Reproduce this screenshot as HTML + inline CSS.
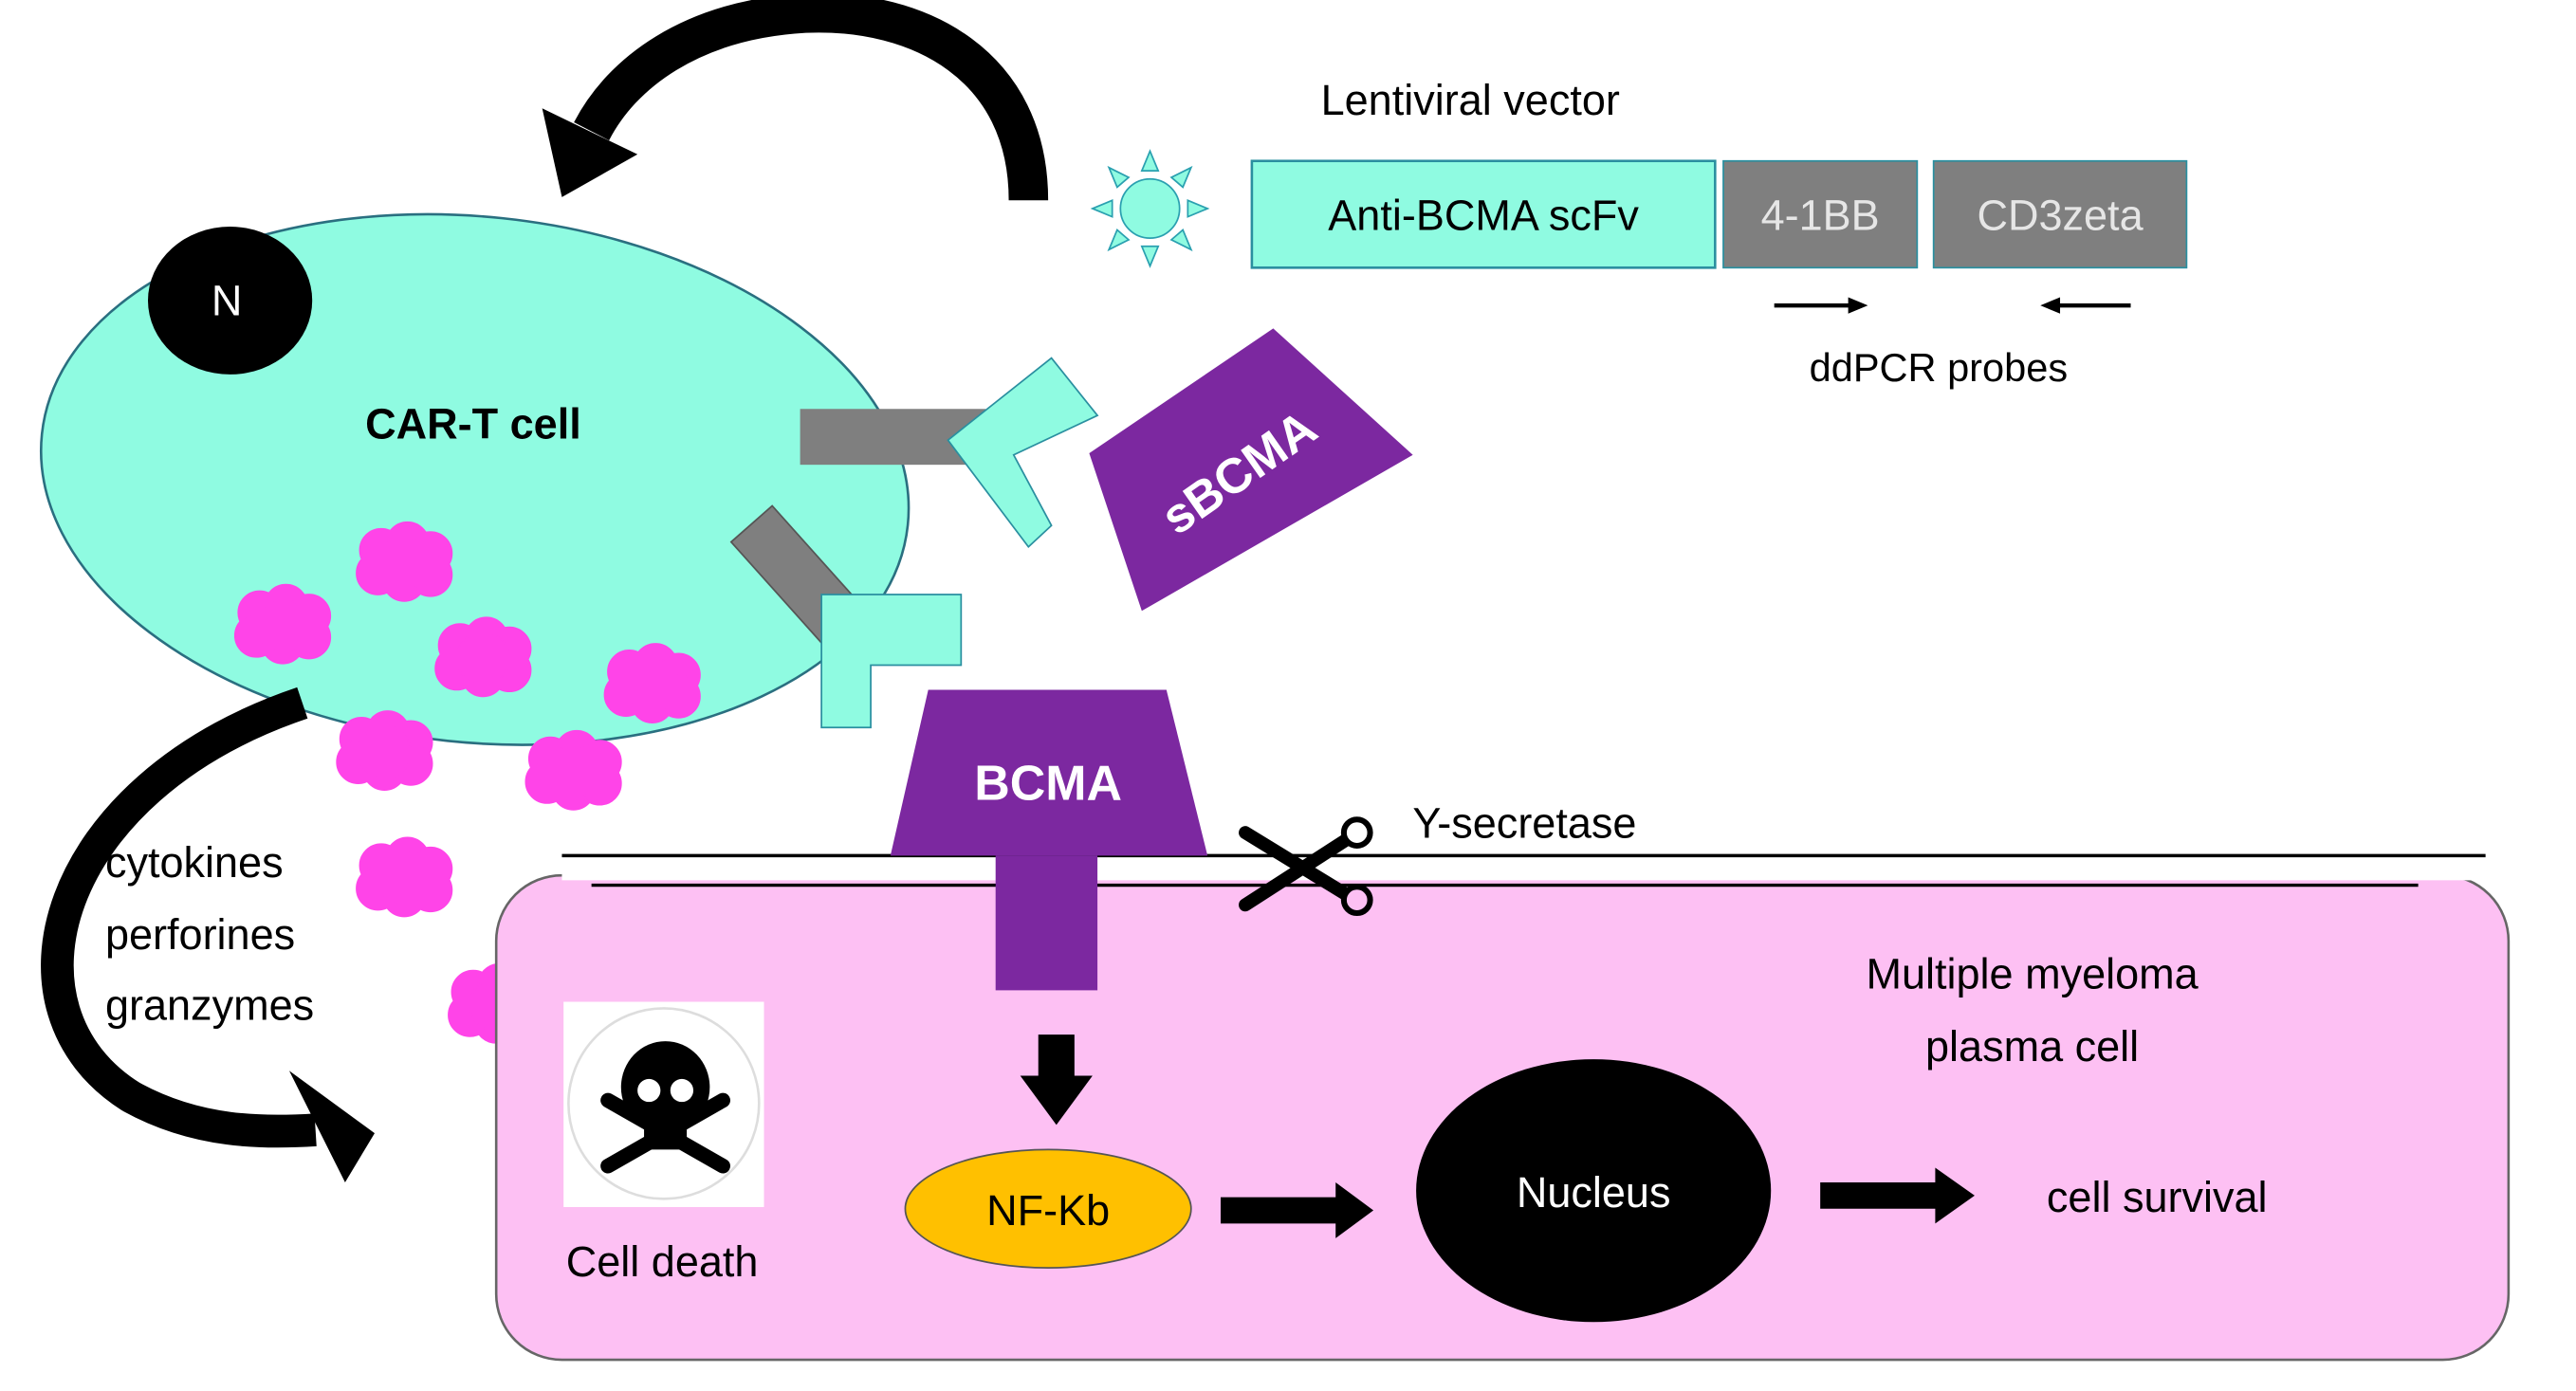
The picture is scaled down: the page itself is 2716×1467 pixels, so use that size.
<!DOCTYPE html>
<html><head><meta charset="utf-8"><style>
html,body{margin:0;padding:0;background:#fff;}
svg{display:block;}
text{font-family:"Liberation Sans",sans-serif;}
</style></head><body>
<svg width="2716" height="1467" viewBox="0 0 1568 847" xmlns="http://www.w3.org/2000/svg">
<defs>
<g id="blob">
<circle cx="-14" cy="-8" r="13"/><circle cx="2" cy="-12" r="13"/><circle cx="16" cy="-6" r="13"/>
<circle cx="-16" cy="6" r="13"/><circle cx="0" cy="10" r="13"/><circle cx="16" cy="7" r="13"/>
<circle cx="0" cy="0" r="16"/>
</g>
</defs>
<!-- top curved arrow -->
<path d="M626,122 C626,40 560,5 490,8 C420,12 378,45 360,80" fill="none" stroke="#000" stroke-width="24"/>
<polygon points="330,66 388,94 342,120" fill="#000"/>
<!-- CAR-T cell -->
<ellipse cx="289" cy="292" rx="265" ry="160" transform="rotate(6 289 292)" fill="#8ffbe1" stroke="#2a6f80" stroke-width="1.5"/>
<ellipse cx="140" cy="183" rx="50" ry="45" fill="#000"/>
<text x="138" y="192" font-size="26" fill="#fff" text-anchor="middle">N</text>
<text x="288" y="267" font-size="26" font-weight="bold" text-anchor="middle">CAR-T cell</text>
<!-- left curved arrow -->
<path d="M184,428 C30,480 -5,615 80,668 C120,690 160,690 192,688" fill="none" stroke="#000" stroke-width="20"/>
<polygon points="176,652 228,690 210,720" fill="#000"/>
<!-- blobs -->
<g fill="#ff44e8" stroke="#ff44e8">
<use href="#blob" x="246" y="343"/><use href="#blob" x="172" y="381"/><use href="#blob" x="294" y="401"/>
<use href="#blob" x="397" y="417"/><use href="#blob" x="234" y="458"/><use href="#blob" x="349" y="470"/>
<use href="#blob" x="246" y="535"/><use href="#blob" x="302" y="612"/>
</g>
<!-- virus -->
<g fill="#8ffbe1" stroke="#2aa0b0" stroke-width="1">
<circle cx="700" cy="127" r="18"/>
<polygon points="700,92 695,104 705,104"/><polygon points="700,162 695,150 705,150"/>
<polygon points="665,127 677,122 677,132"/><polygon points="735,127 723,122 723,132"/>
<polygon points="675,102 680,114 687,108"/><polygon points="725,102 720,114 713,108"/>
<polygon points="675,152 680,140 687,146"/><polygon points="725,152 720,140 713,146"/>
</g>
<text x="895" y="70" font-size="26" text-anchor="middle">Lentiviral vector</text>
<rect x="762" y="98" width="282" height="65" fill="#8ffbe1" stroke="#2a8fa0" stroke-width="1.5"/>
<text x="903" y="140" font-size="26" text-anchor="middle">Anti-BCMA scFv</text>
<rect x="1049" y="98" width="118" height="65" fill="#7f7f7f" stroke="#2a8fa0" stroke-width="1"/>
<text x="1108" y="140" font-size="26" fill="#e6e6e6" text-anchor="middle">4-1BB</text>
<rect x="1177" y="98" width="154" height="65" fill="#7f7f7f" stroke="#2a8fa0" stroke-width="1"/>
<text x="1254" y="140" font-size="26" fill="#e6e6e6" text-anchor="middle">CD3zeta</text>
<line x1="1080" y1="186" x2="1128" y2="186" stroke="#000" stroke-width="2.5"/><polygon points="1137,186 1125,181 1125,191"/>
<line x1="1297" y1="186" x2="1251" y2="186" stroke="#000" stroke-width="2.5"/><polygon points="1242,186 1254,181 1254,191"/>
<text x="1180" y="232" font-size="24" text-anchor="middle">ddPCR probes</text>
<!-- receptor 1 -->
<rect x="487" y="249" width="113" height="34" fill="#7f7f7f"/>
<polygon points="577,268 640,218 668,253 617,277 640,320 626,333" fill="#8ffbe1" stroke="#2a8fa0" stroke-width="1"/>
<!-- sBCMA -->
<polygon points="663,276 775,200 860,277 695,372" fill="#7c28a0"/>
<text x="0" y="0" font-size="30" font-weight="bold" fill="#fff" text-anchor="middle" transform="translate(760,296) rotate(-35)">sBCMA</text>
<!-- receptor 2 -->
<polygon points="445,330 470,308 530,375 505,397" fill="#7f7f7f" stroke="#555" stroke-width="1"/>
<polygon points="500,362 585,362 585,405 530,405 530,443 500,443" fill="#8ffbe1" stroke="#2a8fa0" stroke-width="1"/>
<!-- pink cell -->
<rect x="302" y="533" width="1225" height="295" rx="40" fill="#fdc0f3" stroke="#666" stroke-width="1.5"/>
<rect x="342" y="523" width="1172" height="13" fill="#fff"/>
<line x1="342" y1="521" x2="1513" y2="521" stroke="#000" stroke-width="2"/>
<line x1="360" y1="539" x2="1472" y2="539" stroke="#000" stroke-width="2"/>
<!-- BCMA -->
<polygon points="565,420 710,420 735,521 542,521" fill="#7c28a0"/>
<rect x="606" y="521" width="62" height="82" fill="#7c28a0"/>
<text x="638" y="487" font-size="30" font-weight="bold" fill="#fff" text-anchor="middle">BCMA</text>
<!-- scissors -->
<g stroke="#000" fill="none">
<path d="M758,507 L820,545" stroke-width="8" stroke-linecap="round"/>
<path d="M758,551 L820,511" stroke-width="8" stroke-linecap="round"/>
<circle cx="826" cy="507" r="8" stroke-width="3.5" fill="#fff"/>
<circle cx="826" cy="548" r="8" stroke-width="3.5" fill="#fdc0f3"/>
</g>
<text x="928" y="510" font-size="26" text-anchor="middle">Y-secretase</text>
<text x="1237" y="602" font-size="26" text-anchor="middle">Multiple myeloma</text>
<text x="1237" y="646" font-size="26" text-anchor="middle">plasma cell</text>
<!-- skull -->
<rect x="343" y="610" width="122" height="125" fill="#fff"/>
<circle cx="404" cy="672" r="58" fill="none" stroke="#ddd" stroke-width="1.5"/>
<g stroke="#000" stroke-width="9" stroke-linecap="round"><line x1="370" y1="670" x2="440" y2="710"/><line x1="440" y1="670" x2="370" y2="710"/></g>
<ellipse cx="405" cy="662" rx="27" ry="28" fill="#000"/>
<rect x="392" y="680" width="26" height="20" rx="5" fill="#000"/>
<circle cx="395" cy="664" r="7" fill="#fff"/><circle cx="415" cy="664" r="7" fill="#fff"/>
<text x="403" y="777" font-size="26" text-anchor="middle">Cell death</text>
<!-- pathway -->
<polygon points="632,630 654,630 654,655 665,655 643,685 621,655 632,655" fill="#000"/>
<ellipse cx="638" cy="736" rx="87" ry="36" fill="#ffc000" stroke="#555" stroke-width="1"/>
<text x="638" y="746" font-size="26" text-anchor="middle">NF-Kb</text>
<polygon points="743,729 813,729 813,720 836,737 813,754 813,745 743,745" fill="#000"/>
<ellipse cx="970" cy="725" rx="108" ry="80" fill="#000"/>
<text x="970" y="735" font-size="26" fill="#fff" text-anchor="middle">Nucleus</text>
<polygon points="1108,720 1178,720 1178,711 1202,728 1178,745 1178,736 1108,736" fill="#000"/>
<text x="1313" y="738" font-size="26" text-anchor="middle">cell survival</text>
<text x="64" y="534" font-size="26">cytokines</text>
<text x="64" y="578" font-size="26">perforines</text>
<text x="64" y="621" font-size="26">granzymes</text>
</svg>
</body></html>
